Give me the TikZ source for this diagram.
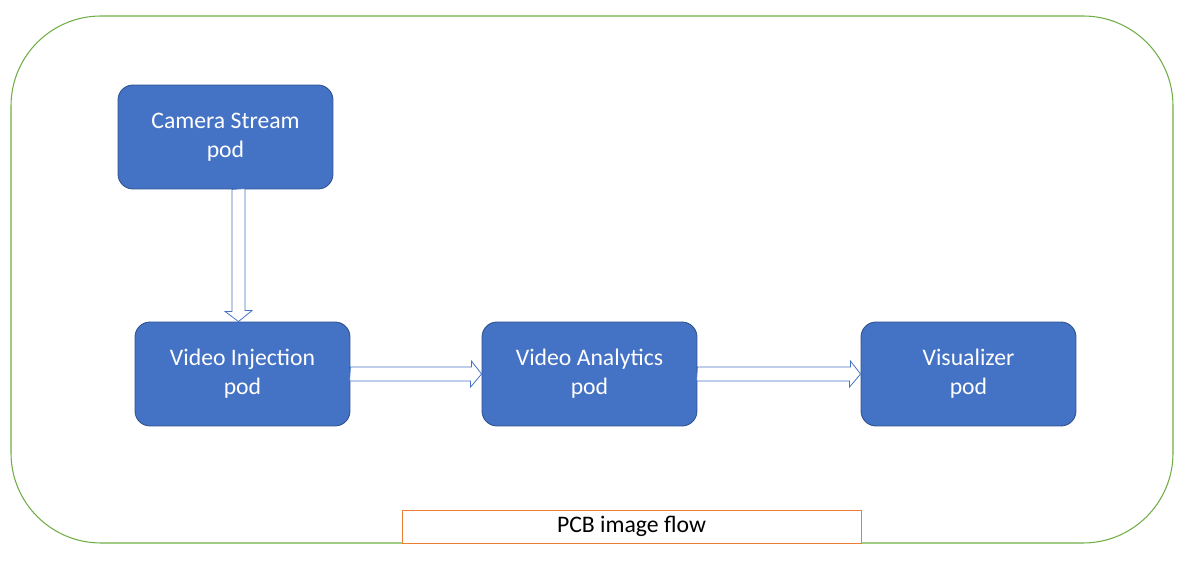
\documentclass[tikz,border=0pt]{standalone}
\usepackage{fontspec}
\setmainfont{Carlito}
\usetikzlibrary{calc}
\definecolor{podblue}{HTML}{4472C4}
\definecolor{podedge}{HTML}{2F528F}
\definecolor{frame}{HTML}{70AD47}
\definecolor{caption}{HTML}{ED7D31}

\begin{document}
\begin{tikzpicture}[x=0.02cm,y=-0.02cm,
    pod/.style={rounded corners=0.3cm,fill=podblue,draw=podedge,line width=0.5pt,
        text=white,align=center,minimum width=4.3cm,minimum height=2.08cm,
        font=\fontsize{13.5}{16.5}\selectfont},
    flow/.style={draw=podblue,fill=white,line width=0.45pt,line join=miter}]
                \useasboundingbox (0,0) rectangle (1184,563);
                \draw[frame,line width=0.6pt,rounded corners=1.8cm] (11,16) rectangle (1173,543);
                \node[pod] (cam) at (225.5,137) {Camera Stream\\pod};
                \node[pod] (inj) at (242.5,374) {Video Injection\\pod};
                \node[pod] (ana) at (589.5,374) {Video Analytics\\pod};
                \node[pod] (vis) at (968.5,374) {Visualizer\\pod};
                % block arrows
                \draw[flow] (cam.south) ++(6.5,0) -- ++(0,122) -- ++(-7,0) --
                    ($(inj.north)+(-4,0)$) -- ++(13.5,-11) -- ++(-7,0) --
                    ++(0,-122) -- cycle;
                \draw[flow] (inj.east) ++(0,-7) -- ++(121,0) -- ++(0,-6) --
                    (ana.west) -- ++(-11,13) -- ++(0,-6) -- ++(-121,0) -- cycle;
                \draw[flow] (ana.east) ++(0,-7) -- ++(153,0) -- ++(0,-6) --
                    (vis.west) -- ++(-11,13) -- ++(0,-6) -- ++(-153,0) -- cycle;
                \node[draw=caption,fill=white,line width=0.5pt,minimum width=9.18cm,
                    minimum height=0.66cm,inner sep=0pt,
                    font=\fontsize{13.5}{16.5}\selectfont] (flowname) at (631.5,526.5)
                    {PCB image flow};
            \end{tikzpicture}
\end{document}
